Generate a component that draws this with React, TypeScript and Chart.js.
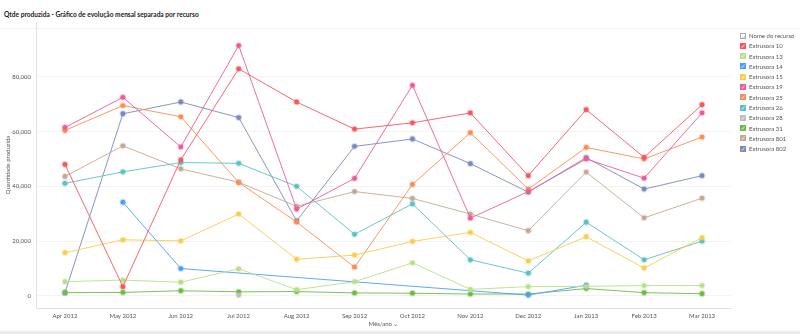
import React, { useEffect, useRef } from "react";
import { Chart, registerables } from "chart.js";
Chart.register(...registerables);

const months = ["Apr 2012", "May 2012", "Jun 2012", "Jul 2012", "Aug 2012", "Sep 2012", "Oct 2012", "Nov 2012", "Dec 2012", "Jan 2013", "Feb 2013", "Mar 2013"];
const yTicks = [0, 20000, 40000, 60000, 80000];

const ext10 = [48000, 3400, 49700, 82900, 70800, 60900, 63200, 66800, 43900, 68000, 50600, 69800];
const ext13 = [5200, 5800, 5000, 9900, 2300, 5200, 12100, 2400, 3400, 3500, 3800, 3800];
const ext14 = [null, 34200, 10000, null, null, null, null, null, 300, 3900, null, null];
const ext15 = [15800, 20500, 20100, 29900, 13400, 14900, 19900, 23200, 12800, 21600, 10200, 21300];
const ext19 = [61500, 72500, 54400, 91400, 31700, 42900, 76900, 28400, 38100, 50000, 43000, 66800];
const ext25 = [60400, 69500, 65400, 41400, 27000, 10500, 40700, 59600, 39000, 54200, 50000, 58000];
const ext26 = [41100, 45300, 48700, 48400, 40000, 22500, 33600, 13200, 8300, 26900, 13200, 20000];
const ext28 = [null, null, null, 300, null, null, null, null, null, null, null, null];
const ext31 = [1200, 1300, 1900, 1500, 1600, 1100, 1000, 700, 700, 2700, 1200, 800];
const ext801 = [43600, 54800, 46400, 41500, 32700, 38100, 35600, 29900, 23800, 45200, 28500, 35700];
const ext802 = [1200, 66500, 70800, 65100, 27400, 54600, 57300, 48300, 37900, 50500, 39000, 43900];

const seriesNames = ["Extrusora 10", "Extrusora 13", "Extrusora 14", "Extrusora 15", "Extrusora 19", "Extrusora 25", "Extrusora 26", "Extrusora 28", "Extrusora 31", "Extrusora 801", "Extrusora 802"];
const seriesData = [ext10, ext13, ext14, ext15, ext19, ext25, ext26, ext28, ext31, ext801, ext802];
const seriesColors = ["#f5585e", "#b8e08a", "#4f9ef5", "#fbcd4e", "#ee5c98", "#f88e56", "#5bc2c4", "#bdbdbd", "#6bbd45", "#c8a893", "#7c89bf"];

function hexA(hex: string, a: number) {
  const n = parseInt(hex.slice(1), 16);
  return `rgba(${(n >> 16) & 255},${(n >> 8) & 255},${n & 255},${a})`;
}

const FONT = "Lato";

export default function App() {
  const ref = useRef<HTMLCanvasElement>(null);
  useEffect(() => {
    if (!ref.current) return;
    const chart = new Chart(ref.current, {
      type: "line",
      data: {
        labels: months,
        datasets: seriesNames.map((name, i) => ({
          label: name,
          data: seriesData[i],
          borderColor: hexA(seriesColors[i], 0.9),
          backgroundColor: seriesColors[i],
          borderWidth: 1,
          pointRadius: 2.4,
          pointBorderWidth: 2,
          pointBackgroundColor: seriesColors[i],
          pointBorderColor: hexA(seriesColors[i], 0.3),
          spanGaps: true,
          tension: 0,
        })),
      },
      options: {
        animation: false,
        responsive: false,
        maintainAspectRatio: false,
        layout: { padding: { left: 0, right: 69, top: 22, bottom: 0 } },
        plugins: { legend: { display: false }, tooltip: { enabled: false } },
        scales: {
          x: {
            offset: true,
            grid: { display: false, drawTicks: false },
            border: { color: "#e2e2e2" },
            ticks: { font: { family: FONT, size: 6 }, color: "#555", padding: 4, maxRotation: 0, autoSkip: false },
            title: { display: true, text: "Mês/ano ⌄", font: { family: FONT, size: 6 }, color: "#555", padding: { top: 0, bottom: 6 } },
            afterFit: (s: any) => { s.height = 26; },
          },
          y: {
            min: -4400,
            max: 100000,
            afterBuildTicks: (s: any) => { s.ticks = yTicks.map((v) => ({ value: v })); },
            grid: { color: "#f3f3f3", drawTicks: false },
            border: { color: "#e2e2e2" },
            ticks: { font: { family: FONT, size: 6 }, color: "#555", padding: 5, callback: (v: any) => Number(v).toLocaleString("en-US") },
            title: { display: true, text: "Quantidade produzida", font: { family: FONT, size: 6 }, color: "#555", padding: { top: 4, bottom: 0 } },
            afterFit: (s: any) => { s.width = 36; },
          },
        },
      },
    });
    return () => chart.destroy();
  }, []);

  const check = (stroke: string) => (
    <svg width="6" height="6" viewBox="0 0 6 6" style={{ position: "absolute", left: 0, top: 0 }}>
      <polyline points="1.6,3.4 2.4,4.4 4.4,1.6" fill="none" stroke={stroke} strokeWidth="0.7" />
    </svg>
  );

  return (
    <div style={{ position: "fixed", left: 0, top: 0, width: 800, height: 334, background: "#fff", overflow: "hidden", fontFamily: FONT }}>
      <div style={{ position: "absolute", left: 4, top: 10, fontSize: 6.6, fontWeight: 700, color: "#222", whiteSpace: "nowrap" }}>
        Qtde produzida - Gráfico de evolução mensal separada por recurso
      </div>
      <div style={{ position: "absolute", left: 0, top: 28, width: 800, height: 1, background: "#f3f3f3" }} />
      <canvas ref={ref} width={800} height={334} style={{ position: "absolute", left: 0, top: 0, width: 800, height: 334 }} />
      <div style={{ position: "absolute", left: 740, top: 32, fontSize: 6, color: "#555" }}>
        <div style={{ position: "relative", height: 10.3, lineHeight: "7px", paddingLeft: 9, whiteSpace: "nowrap" }}>
          <div style={{ position: "absolute", left: 0, top: 0.5, width: 6, height: 6, boxSizing: "border-box", border: "0.6px solid #aaa", background: "#fff" }}>{check("#999")}</div>
          Nome do recurso
        </div>
        {seriesNames.map((n, i) => (
          <div key={n} style={{ position: "relative", height: 10.3, lineHeight: "7px", paddingLeft: 9, whiteSpace: "nowrap" }}>
            <div style={{ position: "absolute", left: 0, top: 0.5, width: 6, height: 6, background: seriesColors[i] }}>{check("#fff")}</div>
            {n}
          </div>
        ))}
      </div>
      <div style={{ position: "absolute", left: 0, top: 331, width: 800, height: 3, background: "#ececec" }} />
    </div>
  );
}
